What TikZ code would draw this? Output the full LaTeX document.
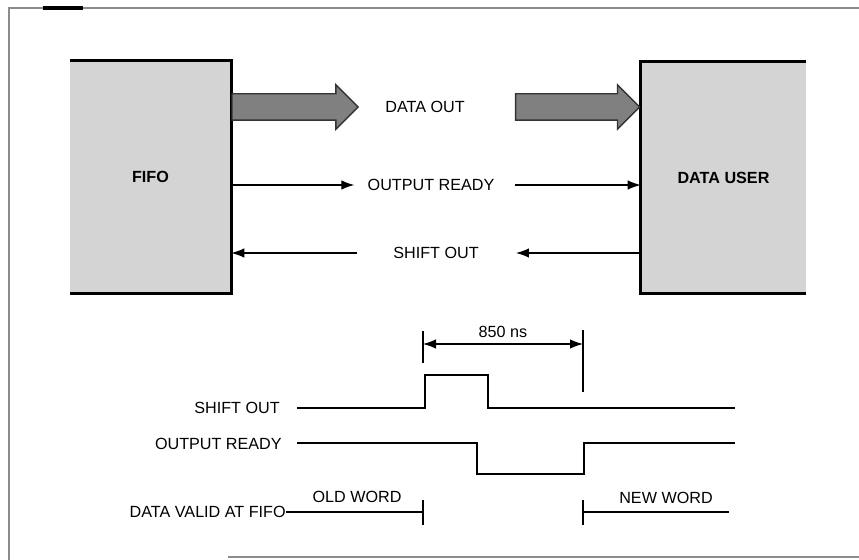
\documentclass[tikz,border=0pt]{standalone}
\usepackage{fontspec}
\setmainfont{Liberation Sans}
\usepackage{tikz}
\usetikzlibrary{arrows.meta,shapes.arrows,positioning}
\definecolor{boxgray}{gray}{0.83}
\definecolor{busgray}{gray}{0.50}
\definecolor{framegray}{gray}{0.55}

\begin{document}
\begin{tikzpicture}[
    x=0.02cm, y=-0.02cm,
    unit/.style={rectangle, fill=boxgray, minimum height=4.64cm, font=\bfseries\fontsize{9.2}{11}\selectfont},
    edge/.style={line width=1.8pt},
    sig/.style={-{Latex[length=2.6mm,width=1.9mm]}, line width=0.7pt},
    lbl/.style={inner sep=0pt, font=\fontsize{9.2}{11}\selectfont},
    wave/.style={line width=1pt},
    bus/.style={single arrow, draw=black!80, line width=0.8pt, fill=busgray, inner sep=0pt, text height=0.5cm, text depth=0pt, text width=0pt, single arrow head extend=0.18cm, single arrow tip angle=90}
]
    \useasboundingbox (0,0) rectangle (859,560);
    % frame
    \draw[framegray, line width=1.5pt] (9,560) |- (859,8);
    \draw[framegray, line width=1.5pt] (228,557) -- (859,557);
    \draw[line width=2pt] (43,8) -- (83,8);

    % units
    \node[unit, minimum width=3.22cm] (fifo) at (150.5,177) {FIFO};
    \node[unit, minimum width=3.3cm] (user) at (723.5,177.5) {DATA USER};
    \draw[edge] (fifo.north west) -- (fifo.north east) -- (fifo.south east) -- (fifo.south west);
    \draw[edge] (user.north east) -- (user.north west) -- (user.south west) -- (user.south east);

    % signal labels
    \node[lbl] (dout) at (425,107) {DATA OUT};
    \node[lbl] (ordy) at (431,185) {OUTPUT READY};
    \node[lbl] (shout) at (436,253) {SHIFT OUT};

    % data bus
    \node[bus, minimum height=2.52cm, anchor=tail] (bus1) at (fifo.east |- dout) {};
    \node[bus, minimum height=2.48cm, anchor=tip] (bus2) at (user.west |- dout) {};

    % handshake lines
    \draw[sig, shorten >=0.26cm] (fifo.east |- ordy) -- (ordy.west);
    \draw[sig, shorten <=0.4cm] (ordy.east) -- (user.west |- ordy);
    \draw[sig, shorten >=0.74cm] (user.west |- shout) -- (shout.east);
    \draw[sig, shorten <=0.72cm] (shout.west) -- (fifo.east |- shout);

    % timing
    \node[lbl, anchor=east] (tso) at (280,408) {SHIFT OUT};
    \node[lbl, anchor=east] (tor) at (282,444) {OUTPUT READY};
    \node[lbl, anchor=east] (tdv) at (286,512) {DATA VALID AT FIFO};
    \draw[wave] (297,408) -- (425,408) -- (425,375) -- (488,375) -- (488,408) -- (735,408);
    \draw[wave] (297,443) -- (477,443) -- (477,474) -- (584,474) -- (584,443) -- (735,443);

    % 850 ns
    \coordinate (t0) at (423,344);
    \coordinate (t1) at (583,344);
    \draw[wave] (423,331) -- (423,363);
    \draw[wave] (583,330) -- (583,392);
    \draw[{Latex[length=2.6mm,width=1.9mm]}-{Latex[length=2.6mm,width=1.9mm]}, line width=0.7pt] (t0) -- node[lbl, above=1.2mm] (dt) {850 ns} (t1);

    % data valid
    \coordinate (oldend) at (423,512);
    \coordinate (newbeg) at (583,512);
    \coordinate (newend) at (729,512);
    \draw[wave] (tdv.east) -- (oldend);
    \draw[wave] (423,500) -- (423,525);
    \draw[wave] (583,500) -- (583,525);
    \draw[wave] (newbeg) -- (newend);
    \node[lbl] (oldw) at (357,497) {OLD WORD};
    \node[lbl] (neww) at (666,498) {NEW WORD};
\end{tikzpicture}
\end{document}
